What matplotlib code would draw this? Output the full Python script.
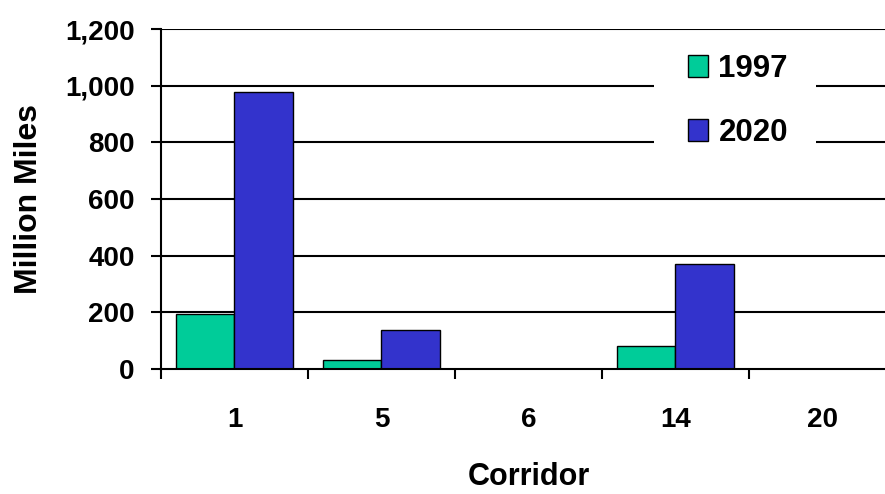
import matplotlib.pyplot as plt
import matplotlib.patches as mpatches
import numpy as np

# data
corridors = ['1', '5', '6', '14', '20']
miles_1997 = [195, 33, 0, 83, 0]
miles_2020 = [978, 138, 0, 372, 0]
series_names = ['1997', '2020']
y_ticks = [0, 200, 400, 600, 800, 1000, 1200]

green = '#00CC99'
blue = '#3333CC'

plt.rcParams['font.family'] = ['Liberation Sans', 'DejaVu Sans']
plt.rcParams['font.weight'] = 'bold'

fig = plt.figure(figsize=(8.85, 4.94), dpi=100)
# plot area runs a bit past the right edge of the picture, like the original
ax = fig.add_axes([0.1819, 0.253, 0.8305, 0.688])

x = np.arange(len(corridors))
w = 0.4
ax.bar(x - w / 2, miles_1997, w, color=green, edgecolor='black', linewidth=1.0, zorder=3, label=series_names[0])
ax.bar(x + w / 2, miles_2020, w, color=blue, edgecolor='black', linewidth=1.0, zorder=3, label=series_names[1])

ax.set_xlim(-0.5, len(corridors) - 0.5)
ax.set_ylim(0, 1200)

# horizontal grid lines
for v in y_ticks[1:]:
    ax.axhline(v, color='black', linewidth=1.5, zorder=1)

# white patch behind the legend hides the grid lines there
ax.add_patch(mpatches.Rectangle((0.671, 0.57), 0.22, 0.40, transform=ax.transAxes,
                                facecolor='white', edgecolor='none', zorder=2))

for side in ['top', 'right']:
    ax.spines[side].set_visible(False)
for side in ['left', 'bottom']:
    ax.spines[side].set_linewidth(1.5)
    ax.spines[side].set_zorder(4)

ax.set_yticks(y_ticks)
ax.set_yticklabels([f'{v:,}' for v in y_ticks])
ax.tick_params(axis='y', direction='out', length=7, width=1.5, pad=12, labelsize=20)

# category boundaries get the tick marks, centres get the labels
ax.set_xticks(np.arange(len(corridors) + 1) - 0.5)
ax.set_xticklabels([])
ax.set_xticks(x, minor=True)
ax.set_xticklabels(corridors, minor=True, fontsize=20, fontweight='bold')
ax.tick_params(axis='x', which='major', direction='out', length=7, width=1.5)
ax.tick_params(axis='x', which='minor', length=0, pad=27)

for lbl in ax.get_yticklabels():
    lbl.set_fontweight('bold')

ax.set_xlabel('Corridor', fontsize=22, fontweight='bold', labelpad=21)
ax.set_ylabel('Million Miles', fontsize=23, fontweight='bold', labelpad=15)

fig.legend(loc='center', bbox_to_anchor=(0.834, 0.796), frameon=False,
           prop={'weight': 'bold', 'size': 22.5},
           handlelength=0.62, handleheight=0.72, handletextpad=0.35,
           labelspacing=1.1, borderpad=0)

fig.savefig('out.png', dpi=100)
